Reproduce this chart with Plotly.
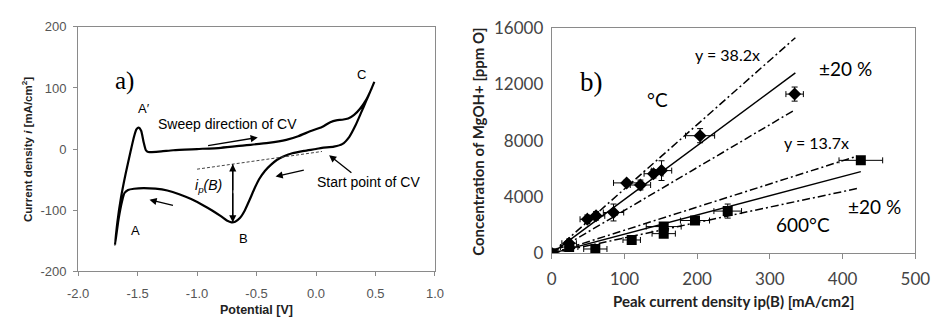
import plotly.graph_objects as go

W, H = 944, 327

# ---------------- panel a) data: cyclic voltammogram ----------------
cv_potential = [0.49, 0.46, 0.42, 0.38, 0.33, 0.28, 0.22, 0.15, 0.05, 0.0, -0.1, -0.2, -0.27, -0.33,
                -0.38, -0.43, -0.48, -0.52, -0.56, -0.6, -0.64, -0.68, -0.71, -0.75, -0.8, -0.87,
                -0.95, -1.05, -1.15, -1.25, -1.35, -1.45, -1.53, -1.58, -1.61, -1.63, -1.66, -1.69,
                -1.67, -1.64, -1.6, -1.56, -1.53, -1.51, -1.49, -1.47, -1.45, -1.43, -1.41, -1.38,
                -1.3, -1.2, -1.0, -0.8, -0.6, -0.4, -0.25, -0.15, -0.05, 0.05, 0.12, 0.17, 0.22,
                0.27, 0.32, 0.37, 0.42, 0.46, 0.49]
cv_current = [110, 96, 78, 60, 38, 20, 8, 4, 2, 0, -3, -7, -12, -18,
              -26, -36, -50, -66, -84, -101, -113, -119, -120, -117, -110, -101,
              -92, -82, -74, -68, -65, -64, -65, -67, -72, -85, -115, -157,
              -120, -80, -40, -5, 20, 32, 35, 30, 12, -2, -5, -5,
              -4, -2, 0, 2, 6, 10, 15, 21, 29, 36, 44, 47, 48,
              50, 56, 66, 80, 96, 110]
baseline_potential = [-1.0, 0.05]
baseline_current = [-33, -4]
ip_potential = -0.70
ip_top, ip_bottom = -25, -120

a_xticks = [-2.0, -1.5, -1.0, -0.5, 0.0, 0.5, 1.0]
a_yticks = [-200, -100, 0, 100, 200]

# ---------------- panel b) data ----------------
dia_x = [0, 24, 49, 61, 85, 103, 122, 140, 151, 204, 334]
dia_y = [0, 720, 2420, 2660, 2900, 5000, 4850, 5650, 5870, 8350, 11300]
dia_xerr = [0, 10, 10, 12, 14, 18, 14, 13, 14, 20, 12]
dia_yerr = [0, 300, 300, 300, 600, 200, 350, 300, 700, 500, 500]

sq_x = [0, 24, 60, 110, 154, 154, 197, 242, 425]
sq_y = [0, 450, 310, 950, 1900, 1400, 2330, 3000, 6600]
sq_xerr = [0, 12, 16, 12, 24, 16, 20, 19, 30]
sq_yerr = [0, 200, 150, 150, 250, 250, 200, 500, 200]

fit_hi_x = [0, 335]
fit_hi_mid = [0, 12800]
fit_hi_up = [0, 15300]
fit_hi_lo = [0, 10200]

fit_lo_x = [0, 425]
fit_lo_mid = [0, 5800]
fit_lo_bx = [0, 420]
fit_lo_up = [0, 6900]
fit_lo_lo = [0, 4600]

b_xticks = [0, 100, 200, 300, 400, 500]
b_yticks = [0, 4000, 8000, 12000, 16000]

fig = go.Figure()

# ----- panel a traces -----
fig.add_trace(go.Scatter(x=cv_potential, y=cv_current, mode="lines",
                         line=dict(color="black", width=2.2, shape="spline", smoothing=0.6),
                         xaxis="x", yaxis="y", showlegend=False, hoverinfo="skip"))
fig.add_trace(go.Scatter(x=baseline_potential, y=baseline_current, mode="lines",
                         line=dict(color="#444", width=1, dash="3px,2px"),
                         xaxis="x", yaxis="y", showlegend=False, hoverinfo="skip"))
fig.add_trace(go.Scatter(x=[ip_potential, ip_potential], y=[ip_top, ip_bottom], mode="lines",
                         line=dict(color="black", width=1.3),
                         xaxis="x", yaxis="y", showlegend=False, hoverinfo="skip"))

# ----- panel b traces -----
dd = "8px,3px,2px,3px"
for xs, ys, dash in [(fit_hi_x, fit_hi_up, dd), (fit_hi_x, fit_hi_mid, "solid"), (fit_hi_x, fit_hi_lo, dd),
                     (fit_lo_bx, fit_lo_up, dd), (fit_lo_x, fit_lo_mid, "solid"), (fit_lo_bx, fit_lo_lo, dd)]:
    fig.add_trace(go.Scatter(x=xs, y=ys, mode="lines", line=dict(color="black", width=1.5, dash=dash),
                             xaxis="x2", yaxis="y2", showlegend=False, hoverinfo="skip"))

fig.add_trace(go.Scatter(x=dia_x, y=dia_y, mode="markers",
                         marker=dict(symbol="diamond", size=10, color="black"),
                         error_x=dict(type="data", array=dia_xerr, color="black", thickness=1, width=3),
                         error_y=dict(type="data", array=dia_yerr, color="black", thickness=1, width=3),
                         xaxis="x2", yaxis="y2", showlegend=False))
fig.add_trace(go.Scatter(x=sq_x, y=sq_y, mode="markers",
                         marker=dict(symbol="square", size=10, color="black"),
                         error_x=dict(type="data", array=sq_xerr, color="black", thickness=1, width=3),
                         error_y=dict(type="data", array=sq_yerr, color="black", thickness=1, width=3),
                         xaxis="x2", yaxis="y2", showlegend=False))

# ----- axes -----
axA = dict(showline=True, linecolor="#8a8a8a", linewidth=1, mirror=True, ticks="outside",
           ticklen=4, tickcolor="#8a8a8a", showgrid=False, zeroline=False)

fig.update_layout(
    width=W, height=H, margin=dict(l=0, r=0, t=0, b=0),
    paper_bgcolor="white", plot_bgcolor="white",
    xaxis=dict(axA, domain=[69 / W, 436 / W], range=[-2.0, 1.0], tickvals=a_xticks,
               ticktext=[f"{v:.1f}" for v in a_xticks], anchor="y", ticklabelstandoff=6,
               tickfont=dict(family="Liberation Sans", size=13, color="#555")),
    yaxis=dict(axA, domain=[1 - 278 / H, 1 - 17 / H], range=[-200, 200], tickvals=a_yticks,
               ticktext=[str(v) for v in a_yticks], ticklabelstandoff=4,
               anchor="x", tickfont=dict(family="Liberation Sans", size=13, color="#555")),
    xaxis2=dict(axA, domain=[556 / W, 930 / W], range=[0, 500], tickvals=b_xticks,
                ticktext=[str(v) for v in b_xticks], anchor="y2",
                ticklen=5, ticklabelstandoff=5,
                tickfont=dict(family="Lato", size=17, color="#444")),
    yaxis2=dict(axA, domain=[1 - 259 / H, 1 - 18 / H], range=[0, 16000], tickvals=b_yticks,
                ticktext=[str(v) for v in b_yticks], anchor="x2", ticklabelstandoff=4,
                ticklen=0, tickfont=dict(family="Lato", size=17, color="#444")),
)

ann = []
def txt(x, y, s, ref, size, family, color="black", **kw):
    ann.append(dict(x=x, y=y, xref="x" if ref == 1 else "x2", yref="y" if ref == 1 else "y2",
                    text=s, showarrow=False, font=dict(family=family, size=size, color=color), **kw))

# panel a labels
txt(-1.61, 111, "a)", 1, 25, "Liberation Serif")
txt(-1.45, 66, "A′", 1, 13, "Liberation Sans")
txt(-1.52, -134, "A", 1, 13, "Liberation Sans")
txt(-0.61, -147, "B", 1, 13, "Liberation Sans")
txt(0.38, 122, "C", 1, 13, "Liberation Sans")
txt(-0.74, 41, "Sweep direction of CV", 1, 14, "Liberation Sans")
txt(-0.90, -60, "<i>i<sub>p</sub>(B)</i>", 1, 14, "Liberation Sans")
txt(0.44, -54, "Start point of CV", 1, 14, "Liberation Sans")

def arrow(x0, y0, x1, y1):
    ann.append(dict(x=x1, y=y1, ax=x0, ay=y0, xref="x", yref="y", axref="x", ayref="y",
                    text="", showarrow=True, arrowhead=2, arrowsize=1.1, arrowwidth=1.3,
                    arrowcolor="black", standoff=0))

arrow(-0.92, 5, -0.49, 19)
arrow(-0.09, -34, -0.34, -45)
arrow(-1.19, -93, -1.40, -83)
arrow(0.31, -41, 0.11, -10)
arrow(ip_potential, -70, ip_potential, ip_top)
arrow(ip_potential, -70, ip_potential, ip_bottom)

# panel b labels
txt(55, 12150, "b)", 2, 27, "Liberation Serif")
txt(242, 14100, "y = 38.2x", 2, 16, "Lato")
txt(404, 13150, "±20 %", 2, 19, "Lato")
txt(146, 10900, "°C", 2, 19, "Lato")
txt(364, 7850, "y = 13.7x", 2, 16, "Lato")
txt(444, 3300, "±20 %", 2, 19, "Lato")
txt(345, 2050, "600°C", 2, 19, "Lato")

# axis titles (paper)
def ptxt(px, py, s, size, family, angle=0, color="#222"):
    ann.append(dict(x=px / W, y=1 - py / H, xref="paper", yref="paper", text=s, showarrow=False,
                    textangle=angle, font=dict(family=family, size=size, color=color),
                    xanchor="center", yanchor="middle"))

ptxt(252, 319, "<b>Potential [V]</b>", 12.5, "Liberation Sans")
ptxt(17, 148, "<b>Current density <i>i</i> [mA/cm<sup>2</sup>]</b>", 11.5, "Liberation Sans", angle=-90)
ptxt(743, 310, "<b>Peak current density ip(B) [mA/cm2]</b>", 15, "Lato")
ptxt(480, 140, "<b>Concentration of MgOH+ [ppm O]</b>", 15, "Lato", angle=-90)

fig.update_layout(annotations=ann)
fig.write_html("out.html")
